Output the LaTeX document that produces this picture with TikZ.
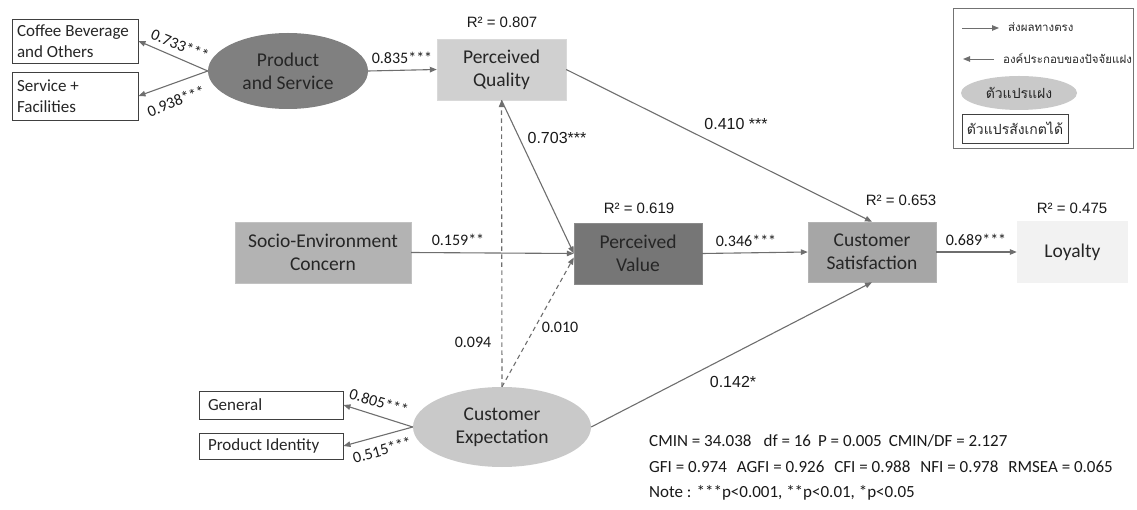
\documentclass[tikz,border=0pt]{standalone}
\usepackage{fontspec}
\setmainfont{Carlito}
\newfontfamily\arialf{Liberation Sans}
\newfontfamily\thaifont[Script=Thai]{Loma}
\usetikzlibrary{shapes.geometric,arrows.meta}

\definecolor{edgegray}{HTML}{6E6E6E}
\definecolor{txtgray}{HTML}{262626}
\definecolor{psfill}{HTML}{808080}
\definecolor{pqfill}{HTML}{D0D0D0}
\definecolor{socfill}{HTML}{B3B3B3}
\definecolor{pvfill}{HTML}{767676}
\definecolor{csfill}{HTML}{A6A6A6}
\definecolor{loyfill}{HTML}{F2F2F2}
\definecolor{cefill}{HTML}{C9C9C9}

\newcommand\fsNode{\fontsize{19.5}{23}\selectfont}
\newcommand\fsObs{\fontsize{17}{22}\selectfont}
\newcommand\fsLab{\fontsize{16}{19}\selectfont}
\newcommand\fsRsq{\arialf\fontsize{15}{18}\selectfont}
\newcommand\fsFit{\fontsize{17}{20}\selectfont}

\begin{document}
\begin{tikzpicture}[x=1pt,y=-1pt,
  construct/.style={rectangle, inner sep=0pt, align=center, text=txtgray, font=\fsNode},
  latent/.style={ellipse, inner sep=0pt, align=center, text=txtgray, font=\fsNode},
  observed/.style={rectangle, draw=black!75, line width=0.9pt, fill=white, inner ysep=0pt,
                   align=flush left, text=txtgray, font=\fsObs},
  connector/.style={draw=edgegray, line width=1.1pt, -{Triangle[length=7pt,width=5.5pt]}},
  nonsig/.style={connector, dash pattern=on 4.5pt off 3.5pt},
  lab/.style={inner sep=0pt, text=black!90, font=\fsLab},
  alab/.style={inner sep=0pt, text=black!90, font=\arialf\fontsize{16}{19}\selectfont},
  rsq/.style={inner sep=0pt, text=black!90, font=\fsRsq},
  fit/.style={inner sep=0pt, anchor=west, text=black!90, font=\fsFit},
  legtext/.style={inner sep=0pt, anchor=west, text=txtgray, font=\thaifont\fontsize{11.5}{14}\selectfont}
]
\useasboundingbox (0,0) rectangle (1137,510);

% observed indicators
\node[observed, text width=116pt, inner xsep=5pt, minimum height=44pt] (coffee) at (75,41)
  {Coffee Beverage\\[-1pt]and Others};
\node[observed, text width=116pt, inner xsep=5pt, minimum height=48pt] (service) at (75,96)
  {Service +\\[-1pt]Facilities};
\node[observed, text width=126pt, inner xsep=9pt, minimum height=28pt] (general) at (271,405) {General};
\node[observed, text width=126pt, inner xsep=9pt, minimum height=26pt] (prodid) at (271,446) {Product Identity};

% latent factors
\node[latent, fill=psfill, minimum width=160pt, minimum height=76pt] (ps) at (288,71) {Product\\and Service};
\node[latent, fill=cefill, minimum width=178pt, minimum height=80pt] (ce) at (502,427) {Customer\\Expectation};

% structural constructs
\node[construct, fill=pqfill, draw=pqfill!80!white, minimum width=129pt, minimum height=61pt] (pq) at (501.5,69.5) {Perceived\\Quality};
\node[construct, fill=socfill, draw=socfill!80!white, minimum width=176pt, minimum height=61pt] (socio) at (323,252.5) {Socio-Environment\\Concern};
\node[construct, fill=pvfill, draw=pvfill!85!white, minimum width=128pt, minimum height=61pt] (pv) at (638,253.5) {Perceived\\Value};
\node[construct, fill=csfill, draw=csfill!85!white, minimum width=128pt, minimum height=60pt] (cs) at (872,252) {Customer\\Satisfaction};
\node[construct, fill=loyfill, minimum width=111pt, minimum height=62pt] (loy) at (1072.5,252) {Loyalty};

% R-squared values
\node[rsq] (r1) at (502,22) {R² = 0.807};
\node[rsq] (r2) at (639,208) {R² = 0.619};
\node[rsq] (r3) at (901,200) {R² = 0.653};
\node[rsq] (r4) at (1072,208) {R² = 0.475};

% measurement paths
\draw[connector] (ps.west) -- (coffee.east);
\draw[connector] (ps.west) -- (service.east);
\draw[connector] (ce.west) -- (general.east);
\draw[connector] (ce.west) -- (prodid.east);

% structural paths
\draw[connector] (ps.east) -- (pq.west);
\draw[connector] (pq.east) -- (cs.north);
\draw[connector] (pq.south) -- (pv.west);
\draw[connector] (socio.east) -- (pv.west);
\draw[connector] (pv.east) -- (cs.west);
\draw[connector] (cs.east) -- (loy.west);
\draw[connector] (ce.east) -- (cs.south);
\draw[nonsig] (ce.north) -- (pq.south);
\draw[nonsig] (ce.north) -- ([yshift=-4pt]pv.west);

% path coefficients
\node[lab, rotate=-22] (c1) at (180,45) {0.733***};
\node[lab, rotate=21] (c2) at (176,101) {0.938***};
\node[lab, rotate=-17] (c3) at (379,402) {0.805***};
\node[lab, rotate=16] (c4) at (382,450) {0.515***};
\node[lab] (c5) at (402,58) {0.835***};
\node[alab] (c6) at (557,138) {0.703***};
\node[alab] (c7) at (736,124) {0.410 ***};
\node[lab] (c8) at (458,240) {0.159**};
\node[lab] (c9) at (746,241) {0.346***};
\node[lab] (c10) at (976,240) {0.689***};
\node[lab] (c11) at (473,342) {0.094};
\node[lab] (c12) at (560,327) {0.010};
\node[alab] (c13) at (733,382) {0.142*};

% model fit
\node[fit] (f1) at (649,441) {CMIN = 34.038\hspace{12pt}df = 16\hspace{7pt}P = 0.005\hspace{7pt}CMIN/DF = 2.127};
\node[fit] (f2) at (649,467) {GFI = 0.974\hspace{10pt}AGFI = 0.926\hspace{10pt}CFI = 0.988\hspace{10pt}NFI = 0.978\hspace{10pt}RMSEA = 0.065};
\node[fit] (f3) at (649,493) {Note : ***p<0.001, **p<0.01, *p<0.05};

% legend
\node[draw=black!55, line width=0.8pt, minimum width=180pt, minimum height=140pt, inner sep=0pt] (legend) at (1043,78) {};
\coordinate (la1s) at (962,28);
\coordinate (la1e) at (999,28);
\coordinate (la2s) at (994,59);
\coordinate (la2e) at (963,59);
\draw[connector, line width=0.9pt] (la1s) -- (la1e);
\draw[connector, line width=0.9pt] (la2s) -- (la2e);
\node[legtext] (lt1) at (1008,27) {ส่งผลทางตรง};
\node[legtext] (lt2) at (1003,58) {องค์ประกอบของปัจจัยแฝง};
\node[ellipse, fill=cefill, minimum width=116pt, minimum height=34pt, inner sep=0pt,
      text=txtgray, font=\thaifont\fontsize{14}{16}\selectfont] (lell) at (1019,93) {ตัวแปรแฝง};
\node[rectangle, draw=black!75, line width=0.9pt, minimum width=106pt, minimum height=29pt, inner sep=0pt,
      text=txtgray, font=\thaifont\fontsize{14}{16}\selectfont] (lrect) at (1015,128.5) {ตัวแปรสังเกตได้};
\end{tikzpicture}
\end{document}
